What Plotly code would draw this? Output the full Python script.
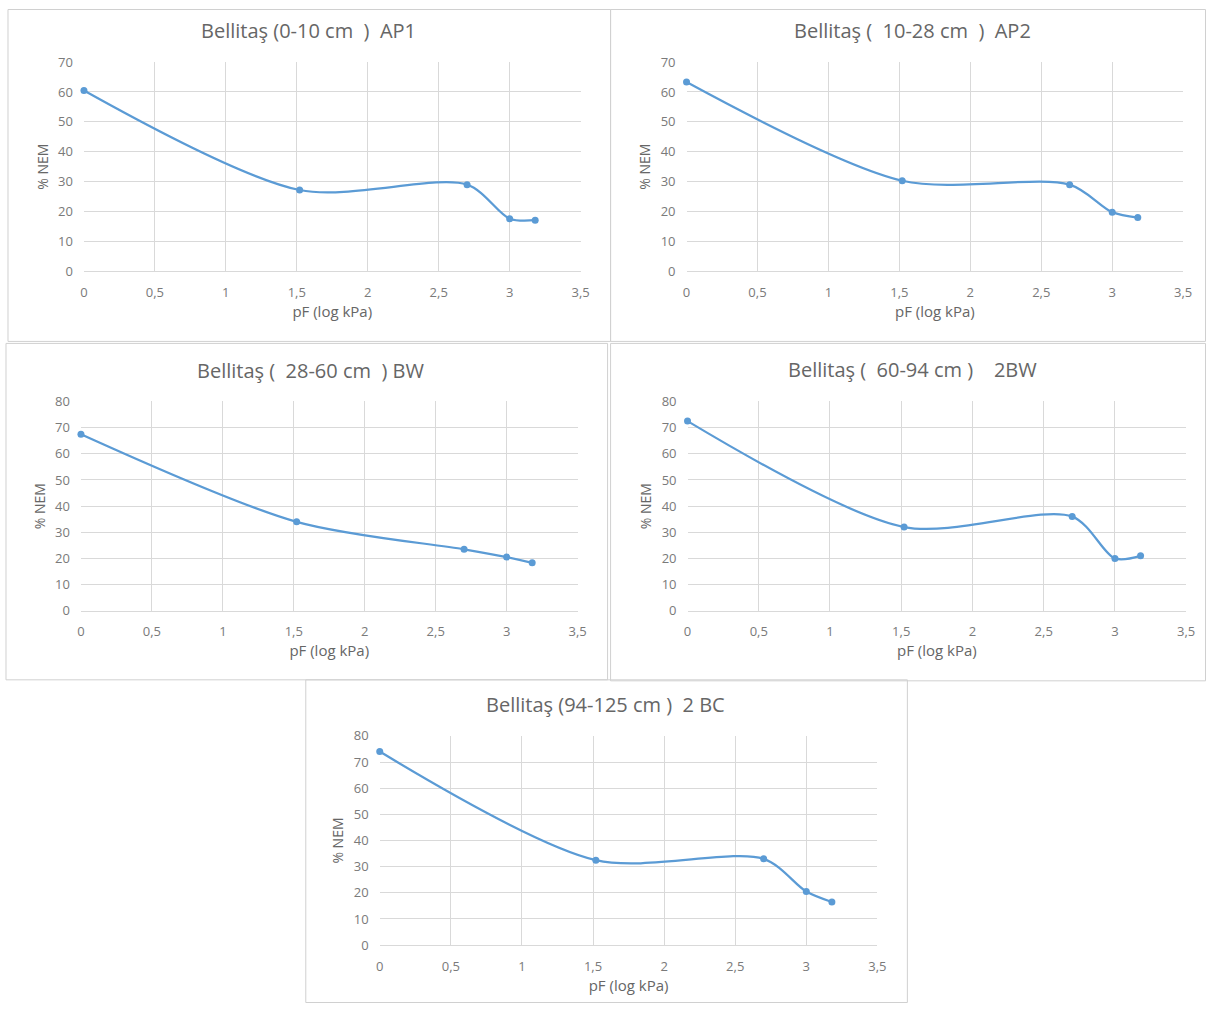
import plotly.graph_objects as go

W, H = 1215, 1012

# ---- data ----
pf = [0, 1.52, 2.7, 3.0, 3.18]
titles = [
    "Bellitaş (0-10 cm  )  AP1",
    "Bellitaş (  10-28 cm  )  AP2",
    "Bellitaş (  28-60 cm  ) BW",
    "Bellitaş (  60-94 cm )    2BW",
    "Bellitaş (94-125 cm )  2 BC",
]
nem_ap1 = [60.5, 27.2, 29.0, 17.6, 17.1]
nem_ap2 = [63.3, 30.3, 29.0, 19.8, 18.0]
nem_bw = [67.5, 34.0, 23.5, 20.5, 18.3]
nem_2bw = [72.5, 32.0, 36.0, 20.0, 21.0]
nem_2bc = [74.0, 32.5, 33.0, 20.5, 16.5]
series = [nem_ap1, nem_ap2, nem_bw, nem_2bw, nem_2bc]
y_max = [70, 70, 80, 80, 80]
x_title = "pF (log kPa)"
y_title = "% NEM"

# ---- layout geometry (target pixels) ----
plot_px = [  # x0, x1, ytop, ybottom
    (83, 580, 62, 271),
    (686, 1183, 62, 271),
    (80, 577, 401, 610),
    (687, 1186, 401, 610),
    (379, 877, 735, 944),
]
box_px = [
    (7, 610, 4, 341),
    (610, 1213, 4, 341),
    (5, 607, 343, 679),
    (610, 1213, 343, 680),
    (305, 907, 679, 1011),
]
title_px = [(308, 30), (912, 30), (310, 370), (912, 369), (605, 704)]

# compensation for capture offset/scale
OX, OY, SX, SY = 3.0, 9.0, 0.990, 0.981


def fx(x):
    return min(max((x - OX) / SX, 0.5), W - 0.5) / W


def fy(y):
    return 1 - min(max((y - OY) / SY, 0.5), H - 0.5) / H


font_family = "'Open Sans', Lato, sans-serif"
gray = "#666666"
tick_gray = "#7a7a7a"
blue = "#5B9BD5"
grid = "#D9D9D9"

fig = go.Figure()
layout = dict(
    width=W, height=H, margin=dict(l=0, r=0, t=0, b=0),
    paper_bgcolor="white", plot_bgcolor="white", showlegend=False,
    separators=",.", font=dict(family=font_family, color=gray),
    shapes=[], annotations=[],
)

for i, (vals, ym) in enumerate(zip(series, y_max)):
    n = "" if i == 0 else str(i + 1)
    fig.add_trace(go.Scatter(
        x=pf, y=vals, mode="lines+markers",
        line=dict(color=blue, width=2.25, shape="spline", smoothing=0.85),
        marker=dict(color=blue, size=7),
        cliponaxis=False,
        xaxis="x" + n, yaxis="y" + n,
    ))
    x0, x1, yt, yb = plot_px[i]
    layout["xaxis" + n] = dict(
        domain=[fx(x0), fx(x1)], anchor="y" + n, range=[0, 3.5], dtick=0.5,
        showgrid=True, gridcolor=grid, gridwidth=1, zeroline=False,
        showline=True, linecolor=grid, linewidth=1,
        tickfont=dict(size=13, color=tick_gray), ticklabelstandoff=9,
        title=dict(text=x_title, font=dict(size=15, color=gray), standoff=6),
        fixedrange=True,
    )
    layout["yaxis" + n] = dict(
        domain=[fy(yb), fy(yt)], anchor="x" + n, range=[0, ym], dtick=10,
        showgrid=True, gridcolor=grid, gridwidth=1, zeroline=False,
        showline=False,
        tickfont=dict(size=13, color=tick_gray), ticklabelstandoff=10,
        title=dict(text=y_title, font=dict(size=14, color=gray), standoff=6),
        fixedrange=True,
    )
    bx0, bx1, by0, by1 = box_px[i]
    layout["shapes"].append(dict(
        type="rect", xref="paper", yref="paper",
        x0=fx(bx0), x1=fx(bx1), y0=fy(by1), y1=fy(by0),
        line=dict(color="#D0D0D0", width=1), fillcolor="rgba(0,0,0,0)",
        layer="below",
    ))
    tx, ty = title_px[i]
    layout["annotations"].append(dict(
        text=titles[i].replace("  ", "\u00a0 "), xref="paper", yref="paper",
        x=fx(tx), y=fy(ty),
        xanchor="center", yanchor="middle", showarrow=False,
        font=dict(size=20, color=gray, family=font_family),
    ))

fig.update_layout(**layout)
post = (
    "document.documentElement.style.margin='0';"
    "document.body.style.margin='0';document.body.style.padding='0';"
    "document.body.style.overflow='hidden';"
    "var d=document.getElementById('{plot_id}');"
    "d.style.position='fixed';d.style.left='0px';d.style.top='0px';"
)
fig.write_html("out.html", post_script=post, config={"displayModeBar": False})
